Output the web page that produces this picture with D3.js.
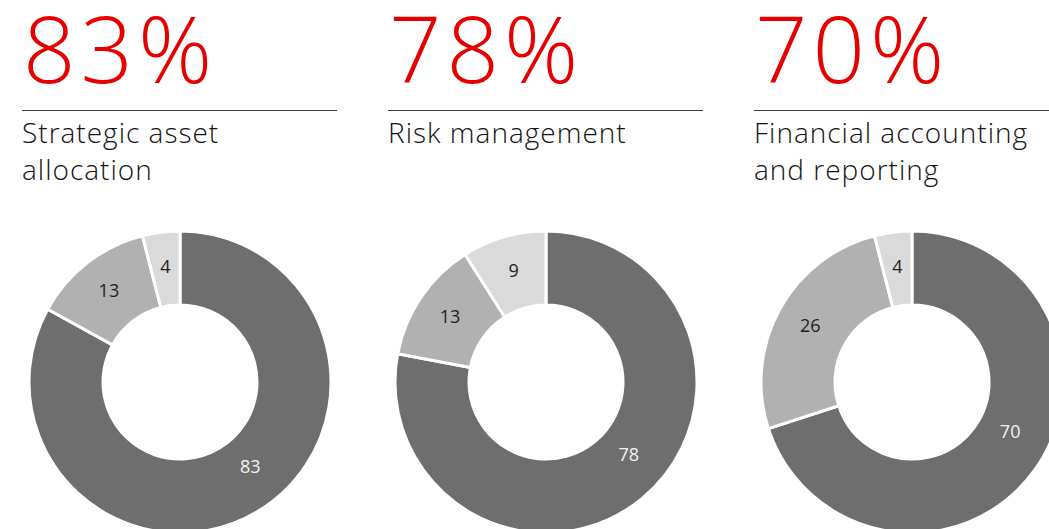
<!DOCTYPE html>
<html>
<head>
<meta charset="utf-8">
<script src="https://cdnjs.cloudflare.com/ajax/libs/d3/7.8.5/d3.min.js"></script>
<style>
  body { margin: 0; background: #fff; overflow: hidden; }
  svg { display: block; }
  .big { font-family: "Open Sans", sans-serif; font-weight: 300; fill: #e60000; }
  .title { font-family: "Open Sans", sans-serif; font-weight: 300; fill: #141414; }
  .lbl { font-family: "Open Sans", sans-serif; font-weight: 400; }
</style>
</head>
<body>
<script>
// chart data
var headlines = ["83%", "78%", "70%"];
var titles = [["Strategic asset", "allocation"], ["Risk management"], ["Financial accounting", "and reporting"]];
var seriesA = [83, 13, 4];
var seriesB = [78, 13, 9];
var seriesC = [70, 26, 4];
var allSeries = [seriesA, seriesB, seriesC];
var sliceColors = ["#6e6e6e", "#b1b1b1", "#dadada"];
var labelColors = ["#f2f2f2", "#222222", "#222222"];

var svgWidth = 1049;
var svgHeight = 529;

var svg = d3.select("body")
  .append("svg")
  .attr("width", svgWidth)
  .attr("height", svgHeight);

var panelStep = 366;
var panelLeft = 22;
var ruleWidth = 315;
var outerR = 151;
var innerR = 77;

var pie = d3.pie().sort(null).value(d => d);
var arc = d3.arc().innerRadius(innerR).outerRadius(outerR);

allSeries.forEach(function(values, i) {
  var g = svg.append("g")
    .attr("transform", `translate(${panelLeft + i * panelStep}, 0)`);

  // big red number
  g.append("text")
    .attr("class", "big")
    .attr("x", 1)
    .attr("y", 83)
    .attr("font-size", 92)
    .attr("letter-spacing", 5)
    .text(headlines[i]);

  // rule
  g.append("line")
    .attr("x1", 0)
    .attr("x2", ruleWidth)
    .attr("y1", 110.5)
    .attr("y2", 110.5)
    .attr("stroke", "#3a3a3a")
    .attr("stroke-width", 1);

  // title lines
  g.selectAll(".title")
    .data(titles[i])
    .enter()
    .append("text")
    .attr("class", "title")
    .attr("x", 0)
    .attr("y", (d, j) => 143 + j * 37)
    .attr("font-size", 28)
    .attr("letter-spacing", 1)
    .text(d => d);

  // donut
  var donut = g.append("g")
    .attr("transform", `translate(158, 382)`);

  var arcs = pie(values);

  donut.selectAll("path")
    .data(arcs)
    .enter()
    .append("path")
    .attr("d", arc)
    .attr("fill", (d, j) => sliceColors[j])
    .attr("stroke", "#fff")
    .attr("stroke-width", 3);

  donut.selectAll(".lbl")
    .data(arcs)
    .enter()
    .append("text")
    .attr("class", "lbl")
    .attr("transform", function(d, j) {
      // main slice label sits a bit ahead of its centroid
      var shift = j === 0 ? 0.16 : 0;
      var a = (d.startAngle + d.endAngle) / 2 - shift;
      var rr = (innerR + outerR) / 2 - (j === 0 ? 4 : -2);
      return `translate(${Math.sin(a) * rr}, ${-Math.cos(a) * rr})`;
    })
    .attr("text-anchor", "middle")
    .attr("dy", "0.35em")
    .attr("font-size", 18)
    .attr("fill", (d, j) => labelColors[j])
    .text(d => d.data);
});
</script>
</body>
</html>
